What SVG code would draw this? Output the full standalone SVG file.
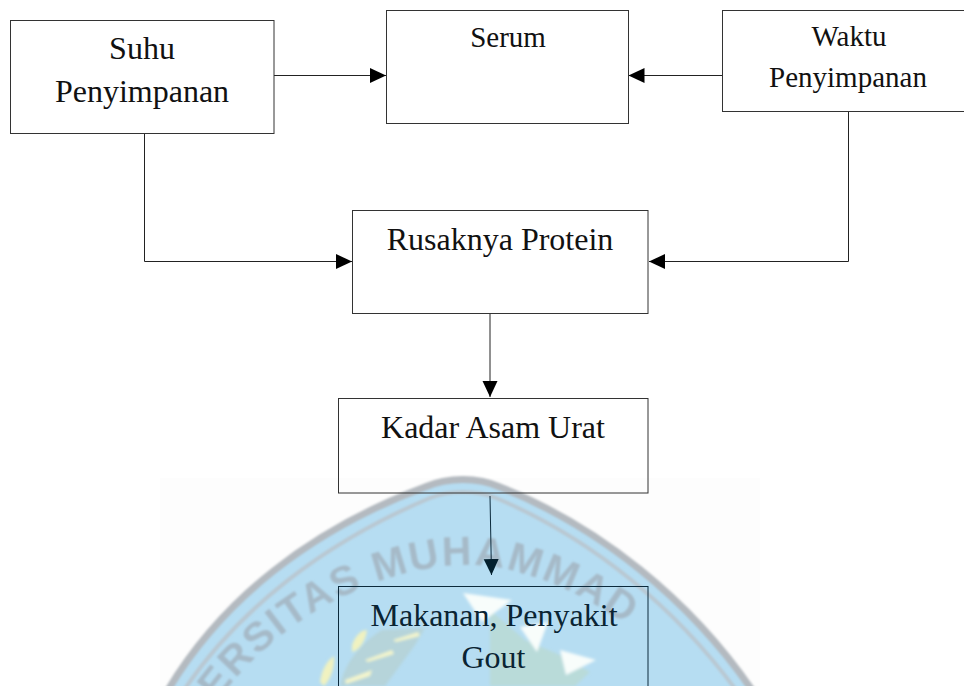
<svg xmlns="http://www.w3.org/2000/svg" width="964" height="686" viewBox="0 0 964 686">
<style>
.box{fill:none;stroke:#333;stroke-width:1}
.low{stroke:#0c2a3c}
.t{font-family:"Liberation Serif","Times New Roman",serif;font-size:32px;fill:#111;text-anchor:middle}
.s{font-size:29px}
.n{fill:#0a2433}
.c{fill:none;stroke:#222;stroke-width:1;marker-end:url(#a)}
.wm{font-family:"Liberation Sans",Arial,sans-serif;font-weight:bold;font-size:41px;fill:#a6bac8;letter-spacing:2px}
</style>
<defs>
<marker id="a" markerUnits="userSpaceOnUse" markerWidth="16" markerHeight="16" refX="16" refY="8" orient="auto"><path d="M0 0.5L16 8L0 15.5Z" fill="#000"/></marker>
<marker id="b" markerUnits="userSpaceOnUse" markerWidth="16" markerHeight="16" refX="16" refY="8" orient="auto"><path d="M0 0.5L16 8L0 15.5Z" fill="#04202e"/></marker>
<filter id="bl" x="-20%" y="-20%" width="140%" height="140%"><feGaussianBlur stdDeviation="1.5"/></filter>
<filter id="bl2" x="-20%" y="-20%" width="140%" height="140%"><feGaussianBlur stdDeviation="1"/></filter>
<path id="arc" d="M205 720C262 630 350 582 430 568C455 564 485 564 510 570C590 590 660 640 720 720"/>
</defs>
<rect width="964" height="686" fill="#fff"/>
<g id="watermark">
<rect x="160" y="478" width="600" height="208" fill="#fdfdfd"/>
<path d="M168 690C222 600 310 530 425 487C448 477 478 477 500 487C600 527 690 600 752 690Z" fill="#b6ddf2"/>
<g filter="url(#bl2)" fill="none">
<path d="M168 690C222 600 310 530 425 487C448 477 478 477 500 487C600 527 690 600 752 690" stroke="#b4bac0" stroke-width="7"/>
<path d="M184 690C238 610 323 543 430 498C450 490 476 490 496 498C595 540 677 610 736 690" stroke="#b9c8d2" stroke-width="4"/>
</g>
<text class="wm" filter="url(#bl2)"><textPath href="#arc" startOffset="22">ERSITAS MUHAMMAD</textPath></text>
<g filter="url(#bl)">
<path d="M490 610L525 640L560 655L590 672L575 686L490 686Z" fill="#bcd8c4" opacity=".55"/>
<path d="M340 686C345 660 365 640 382 630L425 628L415 645L385 686Z" fill="#b5c4ad" opacity=".35"/>
<path d="M352 645C356 634 362 630 367 630C366 640 360 650 352 652Z" fill="#f0f2c0"/>
<path d="M320 682C322 668 328 660 334 656C335 668 330 680 324 686Z" fill="#f0f2c0"/>
<path d="M393 640L418 632L420 636L396 642ZM365 660L392 650L394 654L368 662ZM345 680L372 670L370 676L346 684Z" fill="#f4f5cc"/>
<path d="M463 593L512 600L482 622ZM520 627L548 622L537 652ZM560 650L596 660L566 675Z" fill="#f8fdfb"/>
</g>
</g>
<g id="connectors">
<path class="c" d="M274 75.5H386"/>
<path class="c" d="M722 75.5H628.5"/>
<path class="c" d="M144.5 133V261.5H352"/>
<path class="c" d="M848.5 111V261.5H649"/>
<path class="c" d="M490 313V397"/>
<path class="c" d="M490 496L491.500 575" style="marker-end:url(#b);stroke:#0c2a3c"/>
</g>
<g id="node-suhu"><rect class="box" x="10.500" y="20.500" width="263.500" height="113"/><text class="t" x="142" y="59">Suhu</text><text class="t" x="142" y="102">Penyimpanan</text></g>
<g id="node-serum"><rect class="box" x="386.500" y="10.500" width="242" height="113"/><text class="t s" x="508" y="47">Serum</text></g>
<g id="node-waktu"><rect class="box" x="722.500" y="10.500" width="242" height="101"/><text class="t s" x="849" y="46">Waktu</text><text class="t s" x="848" y="87">Penyimpanan</text></g>
<g id="node-rusak"><rect class="box" x="352.500" y="210.500" width="295.500" height="103"/><text class="t" x="500" y="250">Rusaknya Protein</text></g>
<g id="node-kadar"><rect class="box" x="338.500" y="398.500" width="309.500" height="94.500"/><text class="t" x="493" y="438">Kadar Asam Urat</text></g>
<g id="node-makanan"><rect class="box low" x="338.500" y="586.500" width="309.500" height="110"/><text class="t n" x="494" y="626">Makanan, Penyakit</text><text class="t n" x="493.500" y="668">Gout</text></g>
</svg>
